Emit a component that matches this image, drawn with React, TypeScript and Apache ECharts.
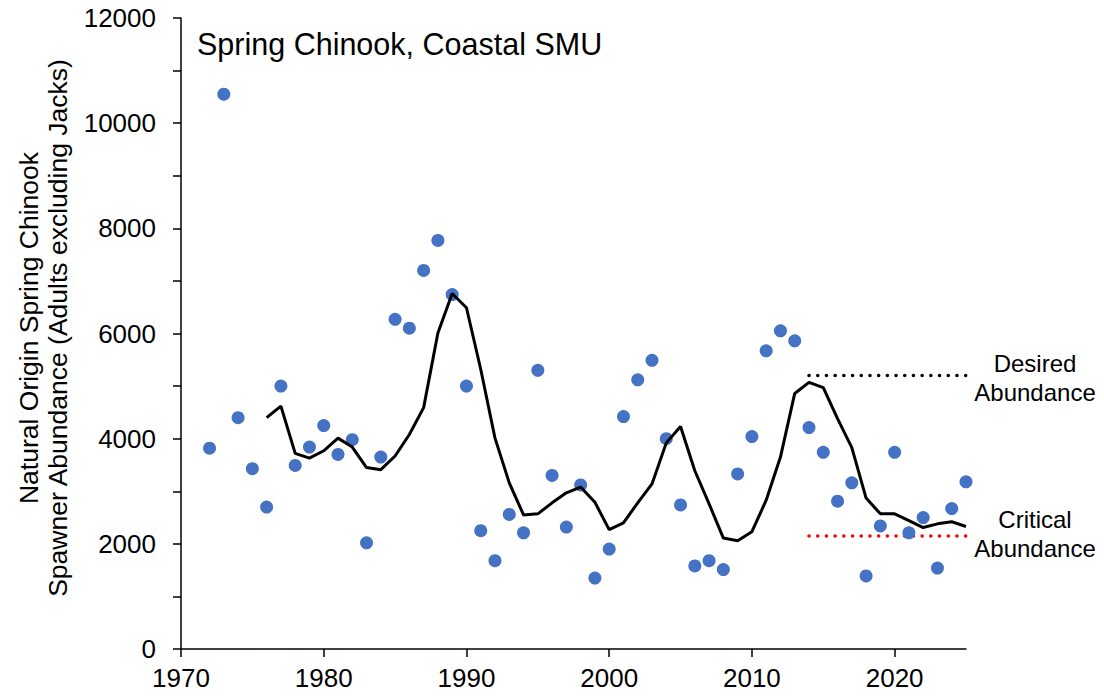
import React, { useEffect, useRef } from "react";
import * as echarts from "echarts";

const years: number[] = [
  1972, 1973, 1974, 1975, 1976, 1977, 1978, 1979, 1980, 1981, 1982, 1983, 1984, 1985, 1986, 1987, 1988, 1989,
  1990, 1991, 1992, 1993, 1994, 1995, 1996, 1997, 1998, 1999, 2000, 2001, 2002, 2003, 2004, 2005, 2006, 2007,
  2008, 2009, 2010, 2011, 2012, 2013, 2014, 2015, 2016, 2017, 2018, 2019, 2020, 2021, 2022, 2023, 2024, 2025,
];
const spawners: number[] = [
  3820, 10550, 4400, 3430, 2700, 5000, 3490, 3840, 4250, 3700, 3980, 2020, 3650, 6270, 6100, 7200, 7770, 6740,
  5000, 2250, 1680, 2560, 2210, 5300, 3300, 2320, 3120, 1350, 1900, 4420, 5120, 5490, 4000, 2740, 1580, 1680,
  1510, 3330, 4040, 5670, 6050, 5860, 4210, 3740, 2810, 3160, 1390, 2340, 3740, 2210, 2500, 1540, 2670, 3180,
];

const avgYears: number[] = [
  1976, 1977, 1978, 1979, 1980, 1981, 1982, 1983, 1984, 1985, 1986, 1987, 1988, 1989, 1990, 1991, 1992, 1993,
  1994, 1995, 1996, 1997, 1998, 1999, 2000, 2001, 2002, 2003, 2004, 2005, 2006, 2007, 2008, 2009, 2010, 2011,
  2012, 2013, 2014, 2015, 2016, 2017, 2018, 2019, 2020, 2021, 2022, 2023, 2024, 2025,
];
const runningAvg: number[] = [
  4400, 4620, 3720, 3630, 3770, 4010, 3840, 3450, 3410, 3670, 4080, 4590, 6010, 6760, 6490, 5320, 4010, 3160,
  2550, 2570, 2780, 2970, 3080, 2790, 2270, 2400, 2780, 3140, 3920, 4230, 3390, 2760, 2110, 2060, 2230, 2830,
  3650, 4860, 5070, 4970, 4380, 3830, 2870, 2570, 2570, 2440, 2310, 2380, 2420, 2330,
];

const referenceYears: number[] = [2014, 2025];
const desiredAbundance = 5200;
const criticalAbundance = 2150;

const xTicks: number[] = [1970, 1980, 1990, 2000, 2010, 2020];

const titleText = "Spring Chinook, Coastal SMU";
const yTitle = ["Natural Origin Spring Chinook", "Spawner Abundance (Adults excluding Jacks)"];

export default function App() {
  const ref = useRef<HTMLDivElement>(null);
  useEffect(() => {
    if (!ref.current) return;
    const chart = echarts.init(ref.current, null, { renderer: "svg" });
    const font = "'Liberation Sans', Arial, sans-serif";
    chart.setOption({
      animation: false,
      backgroundColor: "#ffffff",
      grid: { left: 181, right: 138, top: 18, bottom: 49 },
      xAxis: {
        type: "value",
        min: 1970,
        max: 2025,
        interval: 10,
        splitLine: { show: false },
        axisLine: { show: true, onZero: false, lineStyle: { color: "#000", width: 1.5 } },
        axisTick: { show: true, inside: false, length: 8, lineStyle: { color: "#000", width: 1.5 }, customValues: xTicks },
        axisLabel: {
          color: "#000",
          fontSize: 26,
          fontFamily: font,
          margin: 16,
          customValues: xTicks,
          formatter: (v: number) => (xTicks.indexOf(v) >= 0 ? String(v) : ""),
        },
      },
      yAxis: {
        type: "value",
        min: 0,
        max: 12000,
        interval: 1000,
        splitLine: { show: false },
        axisLine: { show: true, lineStyle: { color: "#000", width: 1.5 } },
        axisTick: { show: true, inside: false, length: 8, lineStyle: { color: "#000", width: 1.5 } },
        axisLabel: {
          color: "#000",
          fontSize: 26,
          fontFamily: font,
          margin: 25,
          formatter: (v: number) => (v % 2000 === 0 ? String(v) : ""),
        },
      },
      graphic: [
        {
          type: "text",
          left: 197,
          top: 28,
          style: { text: titleText, fontSize: 30.5, fontFamily: font, fill: "#000" },
        },
        {
          type: "text",
          x: 43,
          y: 328,
          rotation: Math.PI / 2,
          style: {
            text: yTitle.join("\n"),
            fontSize: 26.5,
            lineHeight: 29,
            fontFamily: font,
            fill: "#000",
            align: "center",
            verticalAlign: "middle",
          },
        },
        {
          type: "text",
          x: 1035,
          y: 378,
          style: {
            text: "Desired\nAbundance",
            fontSize: 24,
            lineHeight: 29,
            fontFamily: font,
            fill: "#000",
            align: "center",
            verticalAlign: "middle",
          },
        },
        {
          type: "text",
          x: 1035,
          y: 534,
          style: {
            text: "Critical\nAbundance",
            fontSize: 24,
            lineHeight: 29,
            fontFamily: font,
            fill: "#000",
            align: "center",
            verticalAlign: "middle",
          },
        },
      ],
      series: [
        {
          type: "line",
          data: referenceYears.map((y) => [y, desiredAbundance]),
          symbol: "none",
          lineStyle: { color: "#000", width: 3.5, type: [0.1, 8.6], cap: "round" },
          z: 2,
        },
        {
          type: "line",
          data: referenceYears.map((y) => [y, criticalAbundance]),
          symbol: "none",
          lineStyle: { color: "#ff0000", width: 3.5, type: [0.1, 8.6], cap: "round" },
          z: 2,
        },
        {
          type: "scatter",
          data: years.map((y, i) => [y, spawners[i]]),
          symbol: "circle",
          symbolSize: 13,
          itemStyle: { color: "#4472C4", opacity: 1 },
          z: 3,
        },
        {
          type: "line",
          data: avgYears.map((y, i) => [y, runningAvg[i]]),
          symbol: "none",
          lineStyle: { color: "#000", width: 3 },
          z: 4,
        },
      ],
    });
    return () => chart.dispose();
  }, []);
  return (
    <div
      ref={ref}
      style={{ position: "fixed", left: 0, top: 0, width: 1104, height: 698, background: "#fff" }}
    />
  );
}
